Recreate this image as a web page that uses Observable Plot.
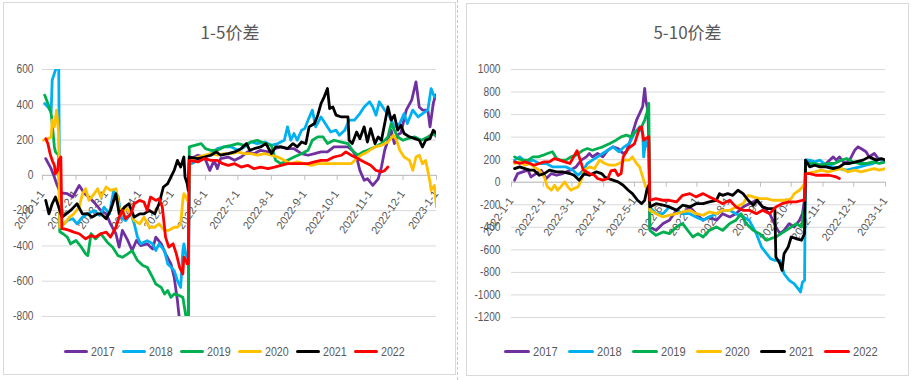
<!DOCTYPE html>
<html><head><meta charset="utf-8">
<script src="https://cdn.jsdelivr.net/npm/d3@7"></script>
<script src="https://cdn.jsdelivr.net/npm/@observablehq/plot@0.6"></script>
<style>
body{margin:0;background:#fff;}
#root{position:relative;width:913px;height:380px;overflow:hidden;background:#fff;}
.panel{position:absolute;border:1px solid #d9d9d9;box-sizing:border-box;}
.title{position:absolute;top:20px;text-align:center;font-family:"Noto Sans CJK SC","Noto Sans",sans-serif;font-size:17px;color:#595959;line-height:24px;}
.chart{position:absolute;top:0;}
.legend{position:absolute;top:342px;display:flex;font-family:"Liberation Sans",Arial,sans-serif;color:#595959;}
.item{display:flex;align-items:center;height:18px;}
.sw{display:inline-block;height:3px;border-radius:2px;margin-right:3px;}
.lt{display:inline-block;transform:scaleX(0.82);transform-origin:left center;}
.sep{position:absolute;left:457px;top:0;height:380px;border-left:1px dashed #c8c8c8;}
</style></head>
<body><div id="root"></div>
<script>
const years = ["2017","2018","2019","2020","2021","2022"];
const colors = ["#7030A0","#00B0F0","#00B050","#FFC000","#000000","#FF0000"];
const titles = ["1-5价差","5-10价差"];
const leftTicks = [-800,-600,-400,-200,0,200,400,600];
const rightTicks = [-1200,-1000,-800,-600,-400,-200,0,200,400,600,800,1000];
const monthLabels = ["2022-1-1","2022-2-1","2022-3-1","2022-4-1","2022-5-1","2022-6-1","2022-7-1","2022-8-1","2022-9-1","2022-10-1","2022-11-1","2022-12-1","2023-1-1"];

// [day of 2022 (0 = Jan 1), value]
const L2017 = [[3,95],[8,38],[11,-10],[13,-47],[15,-75],[18,-100],[23,-104],[28,-123],[34,-57],[39,-104],[43,-123],[49,-161],[54,-199],[59,-218],[63,-275],[68,-331],[71,-407],[74,-312],[79,-369],[83,-426],[87,-369],[91,-398],[97,-388],[102,-417],[105,-350],[110,-388],[114,-445],[119,-502],[122,-578],[125,-710],[127,-824],[131,-900],[135,-900],[136,100],[138,95],[144,114],[150,104],[155,28],[159,85],[162,38],[165,95],[172,104],[178,85],[184,104],[190,133],[196,123],[202,142],[209,133],[215,151],[221,161],[227,151],[233,151],[240,123],[246,114],[252,123],[258,133],[264,133],[270,161],[277,161],[283,161],[287,142],[291,104],[294,28],[298,-28],[301,-19],[306,-57],[311,-20],[314,47],[317,142],[320,199],[323,256],[326,180],[329,230],[332,240],[337,370],[342,426],[346,530],[349,388],[352,370],[357,370],[359,275],[362,407],[364,455]];
const L2018 = [[2,407],[5,388],[8,360],[9,540],[11,578],[14,634],[15,640],[16,-275],[20,-275],[23,-256],[28,-246],[32,-275],[37,-237],[42,-218],[48,-199],[53,-227],[57,-180],[62,-218],[66,-85],[70,-120],[73,-237],[77,-256],[82,-218],[85,-275],[88,-350],[91,-388],[97,-370],[102,-388],[105,-426],[108,-388],[113,-426],[116,-502],[119,-520],[122,-540],[125,-597],[128,-635],[130,-426],[131,-388],[133,-464],[135,-450],[136,66],[138,66],[144,85],[150,104],[156,123],[162,151],[168,161],[175,161],[181,142],[187,161],[193,189],[199,180],[206,189],[212,170],[218,180],[224,199],[227,275],[230,199],[233,237],[236,199],[240,256],[243,265],[246,313],[250,370],[253,275],[258,331],[263,284],[267,246],[272,256],[275,227],[280,256],[284,313],[289,313],[294,350],[298,388],[303,417],[306,388],[309,341],[312,417],[317,370],[321,341],[326,275],[331,294],[335,350],[338,294],[343,370],[348,331],[352,350],[357,370],[360,492],[363,445]];
const L2019 = [[2,455],[5,407],[8,350],[9,294],[11,161],[12,133],[15,114],[16,-320],[19,-331],[23,-350],[26,-388],[31,-369],[36,-407],[40,-445],[42,-455],[45,-331],[49,-360],[54,-331],[60,-379],[65,-407],[70,-455],[74,-464],[79,-445],[83,-426],[88,-483],[93,-511],[97,-521],[102,-578],[105,-616],[110,-635],[113,-672],[116,-653],[119,-691],[122,-672],[127,-682],[130,-691],[133,-805],[135,-790],[136,161],[141,170],[147,180],[151,151],[156,142],[162,142],[168,161],[175,170],[181,180],[187,170],[193,189],[199,199],[206,180],[212,170],[216,85],[221,66],[227,85],[233,104],[240,123],[246,142],[250,199],[255,218],[260,218],[264,180],[270,199],[277,189],[283,180],[287,142],[292,114],[297,133],[301,142],[308,161],[314,180],[320,218],[323,294],[326,256],[329,218],[334,199],[338,208],[345,218],[351,199],[357,218],[362,237],[365,218]];
const L2020 = [[1,199],[5,208],[8,218],[9,313],[11,275],[13,370],[15,237],[16,-294],[20,-275],[25,-237],[29,-218],[34,-180],[37,-104],[40,-76],[43,-142],[48,-104],[51,-76],[54,-123],[59,-66],[63,-85],[68,-76],[71,-180],[74,-218],[77,-180],[82,-218],[85,-256],[90,-275],[94,-237],[99,-294],[104,-294],[108,-275],[113,-312],[117,-312],[122,-294],[125,-294],[128,-275],[130,-142],[131,-104],[133,-123],[135,-150],[136,85],[144,104],[150,114],[156,123],[162,114],[168,123],[175,123],[181,133],[187,123],[193,123],[199,114],[206,123],[212,114],[218,104],[224,85],[230,66],[236,76],[243,66],[249,57],[255,66],[261,66],[267,66],[274,66],[280,66],[286,66],[291,95],[295,114],[301,133],[308,161],[314,170],[320,189],[325,227],[328,199],[331,142],[335,104],[340,85],[343,28],[346,104],[349,114],[352,66],[355,85],[359,-38],[360,-85],[363,-57],[365,-180]];
const L2021 = [[3,-142],[6,-218],[9,-161],[12,-123],[15,-180],[18,-237],[22,-218],[26,-199],[29,-180],[32,-161],[37,-218],[42,-218],[46,-237],[51,-218],[54,-218],[59,-246],[63,-199],[68,-104],[71,-218],[76,-180],[80,-161],[85,-237],[90,-218],[94,-218],[99,-199],[104,-218],[108,-161],[112,-66],[116,-47],[119,-9],[122,28],[125,85],[128,47],[131,104],[132,-9],[134,-47],[135,-85],[136,104],[144,95],[150,104],[156,114],[161,133],[165,114],[172,123],[178,133],[184,151],[189,180],[192,142],[196,151],[202,161],[207,180],[212,123],[216,161],[221,161],[227,151],[232,180],[236,161],[240,189],[244,180],[247,275],[252,294],[255,341],[258,407],[261,445],[264,492],[266,379],[269,388],[272,341],[277,331],[283,331],[284,199],[287,180],[291,246],[294,208],[298,275],[301,189],[304,265],[308,180],[311,218],[314,199],[320,388],[323,313],[326,341],[329,256],[332,284],[335,237],[340,218],[345,208],[349,199],[352,161],[355,199],[359,208],[362,256],[365,237]];
const L2022 = [[3,208],[5,180],[7,123],[9,85],[11,57],[12,9],[14,28],[15,85],[17,104],[18,-303],[20,-303],[25,-312],[29,-322],[34,-331],[40,-360],[45,-341],[49,-350],[54,-331],[59,-322],[63,-350],[68,-294],[71,-237],[74,-199],[77,-246],[82,-218],[85,-161],[90,-142],[94,-151],[97,-199],[100,-123],[105,-142],[108,-132],[111,-180],[114,-350],[117,-407],[121,-388],[124,-445],[127,-521],[130,-559],[131,-464],[133,-483],[134,-502],[135,-500],[136,85],[144,76],[150,95],[156,85],[162,85],[167,66],[172,57],[178,66],[184,47],[190,57],[196,38],[202,47],[209,38],[215,47],[221,57],[227,66],[233,66],[240,66],[246,66],[252,76],[258,85],[264,85],[270,104],[277,114],[281,133],[286,114],[292,95],[298,76],[304,57],[309,28],[314,19],[317,28],[320,47]];

const R2017 = [[3,18],[6,77],[11,92],[16,107],[19,47],[24,77],[29,107],[34,33],[39,77],[44,62],[50,77],[57,107],[63,136],[68,196],[73,225],[76,255],[79,225],[84,255],[89,225],[94,284],[99,314],[104,299],[109,255],[112,270],[115,344],[118,433],[122,551],[125,610],[128,670],[130,833],[131,729],[133,640],[134,373],[135,-397],[141,-427],[148,-367],[154,-338],[161,-249],[167,-279],[174,-219],[180,-279],[187,-338],[193,-308],[200,-338],[206,-279],[213,-308],[219,-279],[226,-219],[232,-190],[239,-160],[245,-219],[252,-279],[258,-397],[262,-456],[266,-427],[271,-367],[276,-397],[281,-338],[284,-279],[286,-150],[287,196],[289,196],[294,166],[301,151],[307,166],[314,225],[317,196],[320,225],[325,166],[330,196],[335,284],[338,314],[341,299],[346,270],[349,225],[354,255],[358,210],[361,196],[365,196]];
const R2018 = [[3,196],[8,225],[14,181],[21,196],[27,166],[34,166],[40,136],[47,136],[53,136],[60,107],[65,62],[70,107],[74,166],[79,196],[84,225],[89,255],[94,284],[99,314],[105,270],[110,314],[115,344],[120,433],[125,492],[128,433],[129,225],[131,373],[133,314],[134,300],[135,-219],[141,-279],[148,-279],[154,-219],[161,-249],[167,-279],[174,-279],[180,-308],[187,-338],[193,-308],[200,-279],[206,-249],[213,-249],[219,-279],[226,-308],[232,-338],[239,-456],[244,-575],[249,-634],[253,-679],[257,-693],[262,-693],[266,-812],[271,-871],[276,-901],[281,-960],[282,-975],[284,-886],[286,-871],[287,196],[291,196],[296,181],[301,196],[307,151],[314,136],[320,121],[327,107],[333,121],[340,136],[346,151],[353,166],[359,210],[365,181]];
const R2019 = [[3,225],[6,210],[11,196],[16,196],[21,225],[26,225],[31,240],[35,255],[40,270],[44,210],[48,196],[53,196],[58,225],[63,240],[70,284],[74,299],[79,284],[84,299],[89,314],[96,344],[102,373],[107,403],[112,418],[117,403],[120,447],[123,462],[127,492],[130,551],[132,610],[134,699],[135,-427],[141,-471],[148,-441],[154,-456],[161,-397],[167,-367],[172,-427],[177,-486],[182,-456],[187,-486],[193,-427],[200,-397],[206,-427],[213,-367],[219,-338],[224,-279],[229,-367],[236,-427],[242,-456],[249,-515],[253,-501],[258,-486],[263,-456],[268,-427],[273,-397],[278,-367],[283,-397],[286,-219],[287,166],[289,166],[296,166],[302,151],[309,166],[315,166],[322,196],[327,210],[333,181],[340,166],[346,166],[353,181],[359,166],[365,181]];
const R2020 = [[3,166],[8,181],[13,151],[18,166],[22,136],[27,107],[32,47],[35,-41],[39,-71],[42,-27],[45,-71],[48,-41],[52,3],[55,-41],[58,-71],[61,-56],[65,-41],[68,18],[71,107],[76,136],[81,121],[86,196],[91,166],[96,151],[101,151],[105,166],[110,196],[115,196],[118,225],[122,166],[125,136],[128,47],[131,-41],[133,-71],[134,-100],[135,-249],[141,-279],[148,-308],[154,-293],[161,-279],[167,-264],[174,-249],[180,-279],[187,-293],[193,-264],[200,-279],[206,-249],[213,-249],[219,-219],[226,-190],[231,-116],[236,-130],[242,-145],[249,-145],[255,-160],[262,-160],[268,-160],[273,-145],[276,-101],[281,-71],[284,-41],[286,-12],[287,77],[296,92],[302,107],[309,92],[315,107],[322,121],[328,92],[335,107],[341,92],[348,107],[354,121],[359,107],[365,121]];
const R2021 = [[3,121],[8,136],[13,121],[18,107],[22,107],[27,62],[32,77],[37,107],[44,92],[50,92],[57,77],[61,62],[66,18],[71,77],[76,62],[83,92],[88,77],[91,47],[94,33],[99,18],[104,3],[109,-27],[114,-71],[118,-101],[123,-160],[127,-190],[130,-160],[132,-71],[134,-27],[135,-219],[141,-190],[148,-204],[154,-219],[161,-249],[167,-204],[174,-219],[180,-190],[187,-190],[193,-175],[200,-160],[203,-101],[206,-116],[211,-101],[216,-116],[221,-71],[226,-101],[231,-160],[236,-204],[240,-160],[245,-219],[250,-234],[257,-234],[258,-664],[262,-723],[264,-782],[266,-634],[270,-575],[273,-486],[278,-501],[283,-515],[286,-456],[287,196],[291,136],[296,151],[301,136],[307,136],[314,121],[320,136],[325,166],[330,166],[336,181],[343,196],[349,225],[356,196],[361,210],[365,196]];
const R2022 = [[3,181],[8,166],[13,181],[18,166],[22,151],[27,166],[32,181],[37,181],[42,210],[47,196],[52,181],[57,166],[61,230],[64,280],[67,200],[70,110],[76,77],[81,62],[84,33],[89,18],[94,33],[97,100],[101,110],[104,60],[107,77],[109,225],[114,300],[120,340],[125,480],[127,492],[129,373],[131,388],[134,403],[135,-160],[141,-145],[148,-160],[154,-160],[161,-175],[167,-116],[174,-101],[180,-130],[187,-101],[193,-130],[200,-160],[206,-190],[213,-160],[219,-219],[226,-249],[232,-249],[239,-279],[245,-249],[252,-279],[258,-219],[264,-190],[271,-175],[278,-175],[284,-160],[286,-160],[287,77],[291,77],[297,62],[304,62],[310,62],[317,47],[320,33]];

const FONT = '"Liberation Sans",Arial,sans-serif';
const DAY = 864e5;
const t0 = Date.UTC(2022,0,1);
const toDate = d => new Date(t0 + d*DAY);
const parseLabel = s => { const [y,m,d] = s.split("-").map(Number); return new Date(Date.UTC(y,m-1,d)); };
const months = monthLabels.map(parseLabel);

function rows(list){
  return list.flatMap((s,i) => s.map(([d,v]) => ({date: toDate(d), value: v, year: years[i]})));
}

function makeChart(o){
  const data = rows(o.series);
  const plotH = o.height - o.marginTop - o.marginBottom;
  const perPx = (o.yDomain[1]-o.yDomain[0]) / plotH;
  const svg = Plot.plot({
    width: o.width, height: o.height,
    marginLeft: o.marginLeft, marginRight: o.marginRight, marginTop: o.marginTop, marginBottom: o.marginBottom,
    style: {fontFamily: FONT, fontSize: "12px", color: "#595959", background: "transparent", overflow: "visible"},
    x: {type: "utc", domain: [months[0], months[months.length-1]], axis: null},
    y: {domain: o.yDomain, axis: null},
    color: {domain: years, range: colors},
    marks: [
      Plot.gridY({ticks: o.yTicks, stroke: "#d9d9d9", strokeOpacity: 1}),
      Plot.ruleY([0], {stroke: "#bfbfbf"}),
      Plot.ruleX(months, {x: d => d, y1: 0, y2: -5*perPx, stroke: "#bfbfbf"}),
      Plot.text(months, {x: d => d, y: 0, text: (d,i) => monthLabels[i], rotate: -55, textAnchor: "end", lineAnchor: "top", dx: -4, dy: 14, fontSize: 11, fill: "#595959"}),
      Plot.axisY({ticks: o.yTicks, tickSize: 0, tickPadding: o.pad, tickFormat: d => String(d), fontSize: 12, label: null}),
      Plot.line(data, {x: "date", y: "value", z: "year", stroke: "year", strokeWidth: 2.8, strokeLinejoin: "round", clip: true})
    ]
  });
  // condense the y tick labels horizontally, keeping their right edge in place
  svg.querySelectorAll('g[aria-label="y-axis tick label"] text').forEach(t => {
    const tr = t.getAttribute("transform") || "";
    t.setAttribute("transform", tr + " scale(0.85,1)");
  });
  return svg;
}

const root = document.getElementById("root");
function add(html){ root.insertAdjacentHTML("beforeend", html); }

add('<div class="panel" style="left:3px;top:2px;width:453px;height:373px"></div>');
add('<div class="panel" style="left:466px;top:3px;width:443px;height:373px"></div>');
add('<div class="sep"></div>');

const c1 = makeChart({series:[L2017,L2018,L2019,L2020,L2021,L2022], yDomain:[-800,600], yTicks:leftTicks,
  width:456, height:330, marginLeft:42, marginRight:20, marginTop:69, marginBottom:14, pad:9});
c1.classList.add("chart"); c1.style.left = "0px"; root.appendChild(c1);

const c2 = makeChart({series:[R2017,R2018,R2019,R2020,R2021,R2022], yDomain:[-1200,1000], yTicks:rightTicks,
  width:457, height:330, marginLeft:55, marginRight:28, marginTop:69, marginBottom:13, pad:11});
c2.classList.add("chart"); c2.style.left = "456px"; root.appendChild(c2);

add(`<div class="title" style="left:0;width:460px">${titles[0]}</div>`);
add(`<div class="title" style="left:466px;width:443px">${titles[1]}</div>`);

function legend(left, itemW, swW, fs){
  const items = years.map((y,i) => `<div class="item" style="width:${itemW}px"><span class="sw" style="width:${swW}px;background:${colors[i]}"></span><span class="lt" style="font-size:${fs}px">${y}</span></div>`).join("");
  add(`<div class="legend" style="left:${left}px">${items}</div>`);
}
legend(64, 58, 24, 13);
legend(504, 64, 26, 13.5);
</script></body></html>
